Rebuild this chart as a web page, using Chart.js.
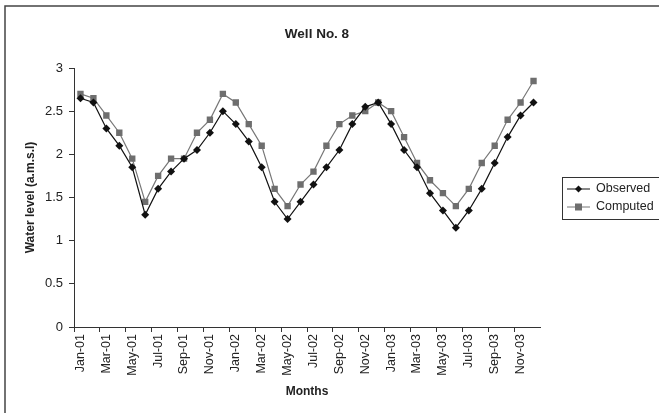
<!DOCTYPE html>
<html>
<head>
<meta charset="utf-8">
<script src="https://cdn.jsdelivr.net/npm/chart.js@4.4.1/dist/chart.umd.min.js"></script>
<style>
  html, body { margin: 0; padding: 0; background: #fff; }
  #wrap { width: 659px; height: 413px; position: relative; }
</style>
</head>
<body>
<div id="wrap"><canvas id="wellChart" width="659" height="413"></canvas></div>
<script>
// Meses (Jan-01 .. Dec-03)
const months = [
  'Jan-01','Feb-01','Mar-01','Apr-01','May-01','Jun-01','Jul-01','Aug-01','Sep-01','Oct-01','Nov-01','Dec-01',
  'Jan-02','Feb-02','Mar-02','Apr-02','May-02','Jun-02','Jul-02','Aug-02','Sep-02','Oct-02','Nov-02','Dec-02',
  'Jan-03','Feb-03','Mar-03','Apr-03','May-03','Jun-03','Jul-03','Aug-03','Sep-03','Oct-03','Nov-03','Dec-03'
];

// Nível observado
const observed = [
  2.65, 2.60, 2.30, 2.10, 1.85, 1.30, 1.60, 1.80, 1.95, 2.05, 2.25, 2.50,
  2.35, 2.15, 1.85, 1.45, 1.25, 1.45, 1.65, 1.85, 2.05, 2.35, 2.55, 2.60,
  2.35, 2.05, 1.85, 1.55, 1.35, 1.15, 1.35, 1.60, 1.90, 2.20, 2.45, 2.60
];

// Nível calculado
const computed = [
  2.70, 2.65, 2.45, 2.25, 1.95, 1.45, 1.75, 1.95, 1.95, 2.25, 2.40, 2.70,
  2.60, 2.35, 2.10, 1.60, 1.40, 1.65, 1.80, 2.10, 2.35, 2.45, 2.50, 2.60,
  2.50, 2.20, 1.90, 1.70, 1.55, 1.40, 1.60, 1.90, 2.10, 2.40, 2.60, 2.85
];

const yTicks = [0, 0.5, 1, 1.5, 2, 2.5, 3];

const FONT = "'Liberation Sans', Arial, sans-serif";
const AXIS_COLOR = '#333';

// Plugin: moldura, título e legenda com caixa
const framePlugin = {
  id: 'frame',
  afterDraw(chart) {
    const ctx = chart.ctx;
    ctx.save();
    // moldura externa (topo e esquerda)
    ctx.strokeStyle = '#444';
    ctx.lineWidth = 1.5;
    ctx.beginPath();
    ctx.moveTo(5, 413);
    ctx.lineTo(5, 6);
    ctx.lineTo(659, 6);
    ctx.stroke();

    // título
    ctx.fillStyle = '#222';
    ctx.font = 'bold 13.5px ' + FONT;
    ctx.textAlign = 'center';
    ctx.textBaseline = 'middle';
    ctx.fillText('Well No. 8', 317, 34);

    // legenda
    ctx.strokeStyle = '#333';
    ctx.lineWidth = 1;
    ctx.strokeRect(562.5, 177.5, 97, 42);
    ctx.font = '12.5px ' + FONT;
    ctx.textAlign = 'left';
    chart.data.datasets.forEach((ds, i) => {
      const y = 189 + i * 18;
      ctx.strokeStyle = ds.borderColor;
      ctx.beginPath();
      ctx.moveTo(567, y);
      ctx.lineTo(590, y);
      ctx.stroke();
      ctx.fillStyle = ds.pointBackgroundColor;
      if (ds.pointStyle === 'rectRot') {
        ctx.beginPath();
        ctx.moveTo(578.5, y - 3.5);
        ctx.lineTo(582, y);
        ctx.lineTo(578.5, y + 3.5);
        ctx.lineTo(575, y);
        ctx.closePath();
        ctx.fill();
      } else {
        ctx.fillRect(575, y - 3.5, 7, 7);
      }
      ctx.fillStyle = '#222';
      ctx.fillText(ds.label, 596, y);
    });
    ctx.restore();
  }
};

const ctx = document.getElementById('wellChart').getContext('2d');
new Chart(ctx, {
  type: 'line',
  data: {
    labels: months,
    datasets: [
      {
        label: 'Observed',
        data: observed,
        borderColor: '#111',
        borderWidth: 1.2,
        pointStyle: 'rectRot',
        pointRadius: 4,
        pointBackgroundColor: '#111',
        pointBorderColor: '#111',
        pointBorderWidth: 0,
        tension: 0
      },
      {
        label: 'Computed',
        data: computed,
        borderColor: '#777',
        borderWidth: 1.2,
        pointStyle: 'rect',
        pointRadius: 4.5,
        pointBackgroundColor: '#6e6e6e',
        pointBorderColor: '#6e6e6e',
        pointBorderWidth: 0,
        tension: 0
      }
    ]
  },
  options: {
    responsive: false,
    animation: false,
    layout: { padding: { top: 68, right: 119, bottom: 0, left: 0 } },
    plugins: {
      legend: { display: false },
      title: { display: false },
      tooltip: { enabled: false }
    },
    scales: {
      x: {
        offset: true,
        afterFit: (scale) => { scale.height = 86; },
        grid: {
          offset: true,
          drawOnChartArea: false,
          drawTicks: true,
          tickLength: 5,
          color: (c) => (c.index % 2 === 0 ? AXIS_COLOR : 'rgba(0,0,0,0)')
        },
        border: { display: true, color: AXIS_COLOR, width: 1 },
        ticks: {
          autoSkip: false,
          minRotation: 90,
          maxRotation: 90,
          padding: 2,
          color: '#222',
          font: { family: FONT, size: 12.5 },
          callback: function (value, index) {
            return index % 2 === 0 ? this.getLabelForValue(value) : '';
          }
        },
        title: {
          display: true,
          text: 'Months',
          color: '#222',
          font: { family: FONT, size: 12, weight: 'bold' },
          padding: { top: 0, bottom: 14 }
        }
      },
      y: {
        min: yTicks[0],
        max: yTicks[yTicks.length - 1],
        afterFit: (scale) => { scale.width = 74; },
        afterBuildTicks: (scale) => { scale.ticks = yTicks.map(v => ({ value: v })); },
        grid: {
          drawOnChartArea: false,
          drawTicks: true,
          tickLength: 5,
          color: AXIS_COLOR
        },
        border: { display: true, color: AXIS_COLOR, width: 1 },
        ticks: {
          padding: 6,
          color: '#222',
          font: { family: FONT, size: 13 },
          callback: (v) => String(v)
        },
        title: {
          display: true,
          text: 'Water level (a.m.s.l)',
          color: '#222',
          font: { family: FONT, size: 12, weight: 'bold' },
          padding: { top: 23, bottom: 0 }
        }
      }
    }
  },
  plugins: [framePlugin]
});
</script>
</body>
</html>
